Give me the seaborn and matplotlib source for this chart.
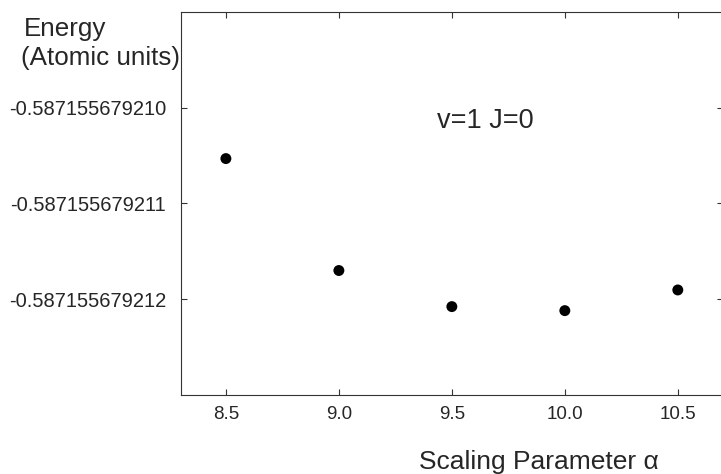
import matplotlib
matplotlib.use("Agg")
import matplotlib.pyplot as plt
from matplotlib.ticker import FixedLocator, FormatStrFormatter
import seaborn as sns
import pandas as pd

# Energy vs scaling parameter (atomic units)
alpha = [8.5, 9.0, 9.5, 10.0, 10.5]
energy = [-0.587155679210531, -0.587155679211700, -0.587155679212077,
          -0.587155679212119, -0.587155679211903]

x_ticks = [8.5, 9.0, 9.5, 10.0, 10.5]
y_ticks = [-0.587155679210, -0.587155679211, -0.587155679212]

df = pd.DataFrame({"alpha": alpha, "energy": energy})

sns.set_style("ticks")
plt.rcParams["font.family"] = ["Liberation Sans", "DejaVu Sans"]

fig = plt.figure(figsize=(7.21, 4.74), dpi=100)
ax = fig.add_axes([180.7 / 721, 1 - 395 / 474, (723 - 180.7) / 721, (395 - 12) / 474])

sns.scatterplot(data=df, x="alpha", y="energy", ax=ax, color="black",
                s=62, edgecolor="none", legend=False)

ax.set_xlim(8.3, 10.7)
ax.set_ylim(-0.587155679213, -0.587155679209)
ax.xaxis.set_major_locator(FixedLocator(x_ticks))
ax.yaxis.set_major_locator(FixedLocator(y_ticks))
ax.xaxis.set_major_formatter(FormatStrFormatter("%.1f"))
ax.yaxis.set_major_formatter(FormatStrFormatter("%.12f"))
ax.set_xlabel("")
ax.set_ylabel("")

for side in ["left", "right", "top", "bottom"]:
    ax.spines[side].set_visible(True)
    ax.spines[side].set_linewidth(0.8)
    ax.spines[side].set_color("#333333")

ax.tick_params(axis="both", direction="in", length=4, width=0.8, color="#333333",
               top=True, right=True)
ax.tick_params(axis="x", labelsize=13.5, pad=8)
ax.tick_params(axis="y", labelsize=14.5, pad=10.5)

ax.text(0.4735, 0.6963, "v=1 J=0", transform=ax.transAxes, fontsize=19.5,
        ha="left", va="baseline")

fig.text(23.5 / 721, 1 - 36 / 474, "Energy", fontsize=18.7, ha="left", va="baseline")
fig.text(21 / 721, 1 - 65 / 474, "(Atomic units)", fontsize=18.7,
         ha="left", va="baseline")
fig.text(419 / 721, 1 - 469.3 / 474, "Scaling Parameter \u03b1", fontsize=19,
         ha="left", va="baseline")

fig.savefig("out.png", dpi=100)
